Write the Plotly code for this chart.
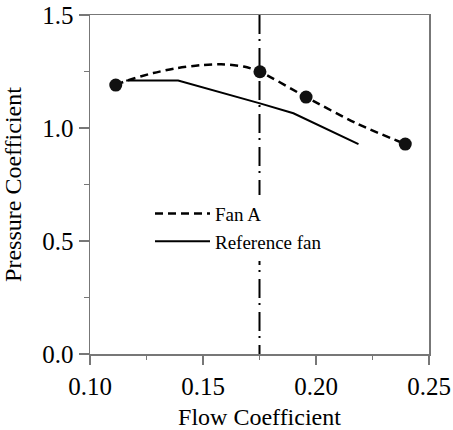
import plotly.graph_objects as go

# Fan A fitted curve
fan_a_curve_x = [0.1114, 0.117, 0.128, 0.138, 0.149, 0.158, 0.168, 0.1752, 0.1956, 0.218, 0.2395]
fan_a_curve_y = [1.190, 1.212, 1.243, 1.264, 1.278, 1.282, 1.272, 1.249, 1.137, 1.020, 0.929]

# Fan A measured points
fan_a_pts_x = [0.1114, 0.1752, 0.1956, 0.2395]
fan_a_pts_y = [1.190, 1.249, 1.137, 0.929]

# Reference fan
ref_x = [0.116, 0.139, 0.1752, 0.190, 0.2188]
ref_y = [1.210, 1.210, 1.109, 1.065, 0.929]

# Design flow coefficient (vertical line)
design_x = [0.175, 0.175]
design_y = [1.5, 0.0]

x_ticks = [0.10, 0.15, 0.20, 0.25]
x_tick_text = ["0.10", "0.15", "0.20", "0.25"]
y_ticks = [0.0, 0.5, 1.0, 1.5]
y_tick_text = ["0.0", "0.5", "1.0", "1.5"]

FONT = "Liberation Serif, Times New Roman, serif"

fig = go.Figure()

fig.add_trace(go.Scatter(
    x=design_x, y=design_y, mode="lines",
    line=dict(color="black", width=2, dash="19px,5px,2px,7px"),
    showlegend=False, hoverinfo="skip"))

fig.add_trace(go.Scatter(
    x=fan_a_curve_x, y=fan_a_curve_y, mode="lines", name="Fan A",
    line=dict(color="black", width=2.5, dash="8px,5px", shape="spline", smoothing=0.8)))

fig.add_trace(go.Scatter(
    x=ref_x, y=ref_y, mode="lines", name="Reference fan",
    line=dict(color="black", width=2)))

fig.add_trace(go.Scatter(
    x=fan_a_pts_x, y=fan_a_pts_y, mode="markers",
    marker=dict(color="#111111", size=13),
    showlegend=False))

fig.update_layout(
    width=453, height=430,
    margin=dict(l=90, r=24, t=15, b=76, autoexpand=False),
    paper_bgcolor="white", plot_bgcolor="white",
    font=dict(family=FONT, size=24, color="black"),
    legend=dict(
        x=0.177, y=0.47, xanchor="left", yanchor="top",
        bgcolor="white", borderwidth=0,
        font=dict(family=FONT, size=19, color="black"),
        itemwidth=55, tracegroupgap=0),
    xaxis=dict(
        range=[0.10, 0.25], tickvals=x_ticks, ticktext=x_tick_text,
        showgrid=False, zeroline=False, automargin=False,
        showline=True, linecolor="#777777", linewidth=1.5, mirror=True,
        ticks="outside", ticklen=9, tickwidth=1.5, tickcolor="#777777",
        minor=dict(ticks="outside", ticklen=4, tickwidth=1.5, tickcolor="#777777",
                   tickvals=[0.125, 0.175, 0.225], showgrid=False),
        title=dict(text="Flow Coefficient", font=dict(size=24)),
        tickfont=dict(size=25)),
    yaxis=dict(
        range=[0.0, 1.5], tickvals=y_ticks, ticktext=y_tick_text,
        showgrid=False, zeroline=False, automargin=False,
        showline=True, linecolor="#777777", linewidth=1.5, mirror=True,
        ticks="outside", ticklen=10, tickwidth=1.5, tickcolor="#777777",
        minor=dict(ticks="outside", ticklen=5, tickwidth=1.5, tickcolor="#777777",
                   tickvals=[0.25, 0.75, 1.25], showgrid=False),
        title=dict(text="Pressure Coefficient", font=dict(size=24)),
        tickfont=dict(size=25)),
)

fig.write_html("out.html",
               config={"displayModeBar": False, "staticPlot": True},
               post_script="document.body.style.margin='0';document.body.style.overflow='hidden';")
